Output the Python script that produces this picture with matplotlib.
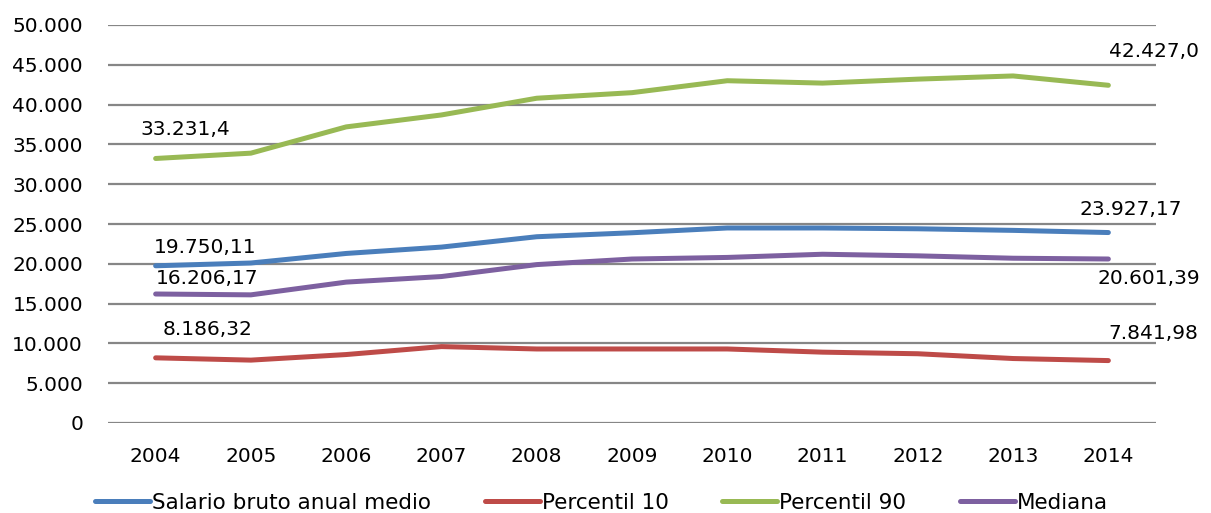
import matplotlib
matplotlib.use("Agg")
import matplotlib.pyplot as plt
from matplotlib.ticker import FuncFormatter

years = [2004, 2005, 2006, 2007, 2008, 2009, 2010, 2011, 2012, 2013, 2014]

salario_medio = [19750.11, 20100, 21300, 22100, 23400, 23900, 24500, 24500, 24400, 24200, 23927.17]
percentil_10 = [8186.32, 7900, 8600, 9600, 9300, 9300, 9300, 8900, 8700, 8100, 7841.98]
percentil_90 = [33231.4, 33900, 37200, 38700, 40800, 41500, 43000, 42700, 43200, 43600, 42427.0]
mediana = [16206.17, 16100, 17700, 18400, 19900, 20600, 20800, 21200, 21000, 20700, 20601.39]

series_names = ["Salario bruto anual medio", "Percentil 10", "Percentil 90", "Mediana"]
colors = ["#4A7EBB", "#BE4B48", "#98B954", "#7D60A0"]

# end-point labels: (text, offset in pixels)
first_labels = ["19.750,11", "8.186,32", "33.231,4", "16.206,17"]
last_labels = ["23.927,17", "7.841,98", "42.427,0", "20.601,39"]
first_offsets = [(49, 18), (52, 28), (30, 29), (51, 15)]
last_offsets = [(22, 23), (45, 27), (46, 34), (40, -19)]

plt.rcParams["font.family"] = "DejaVu Sans"

fig = plt.figure(figsize=(12.11, 5.13), dpi=100)
ax = fig.add_axes([108 / 1211, 1 - 423 / 513, 1048 / 1211, 398 / 513])

x = list(range(len(years)))
data = [salario_medio, percentil_10, percentil_90, mediana]
for vals, name, c in zip(data, series_names, colors):
    ax.plot(x, vals, color=c, lw=3.6, solid_capstyle="round", label=name, zorder=3)

for i, vals in enumerate(data):
    ax.annotate(first_labels[i], (x[0], vals[0]), xytext=first_offsets[i],
                textcoords="offset pixels", ha="center", va="center", fontsize=14.5)
    ax.annotate(last_labels[i], (x[-1], vals[-1]), xytext=last_offsets[i],
                textcoords="offset pixels", ha="center", va="center", fontsize=14.5)

ax.set_xlim(-0.5, len(years) - 0.5)
ax.set_ylim(0, 50000)
ax.set_yticks(range(0, 50001, 5000))
ax.yaxis.set_major_formatter(FuncFormatter(lambda v, p: f"{int(v):,}".replace(",", ".")))
ax.set_xticks(x)
ax.set_xticklabels([str(y) for y in years])
ax.grid(axis="y", color="#868686", lw=1.6, zorder=1)
for s in ax.spines.values():
    s.set_visible(False)
ax.tick_params(axis="both", length=0, labelsize=14.5)
ax.tick_params(axis="y", pad=18)
ax.tick_params(axis="x", pad=17)

ax.legend(loc="center", bbox_to_anchor=(0.471, -80 / 398), ncol=4,
          frameon=False, fontsize=15.5, handlelength=2.55, handletextpad=0.1,
          columnspacing=2.5)

fig.savefig("out.png", dpi=100)
